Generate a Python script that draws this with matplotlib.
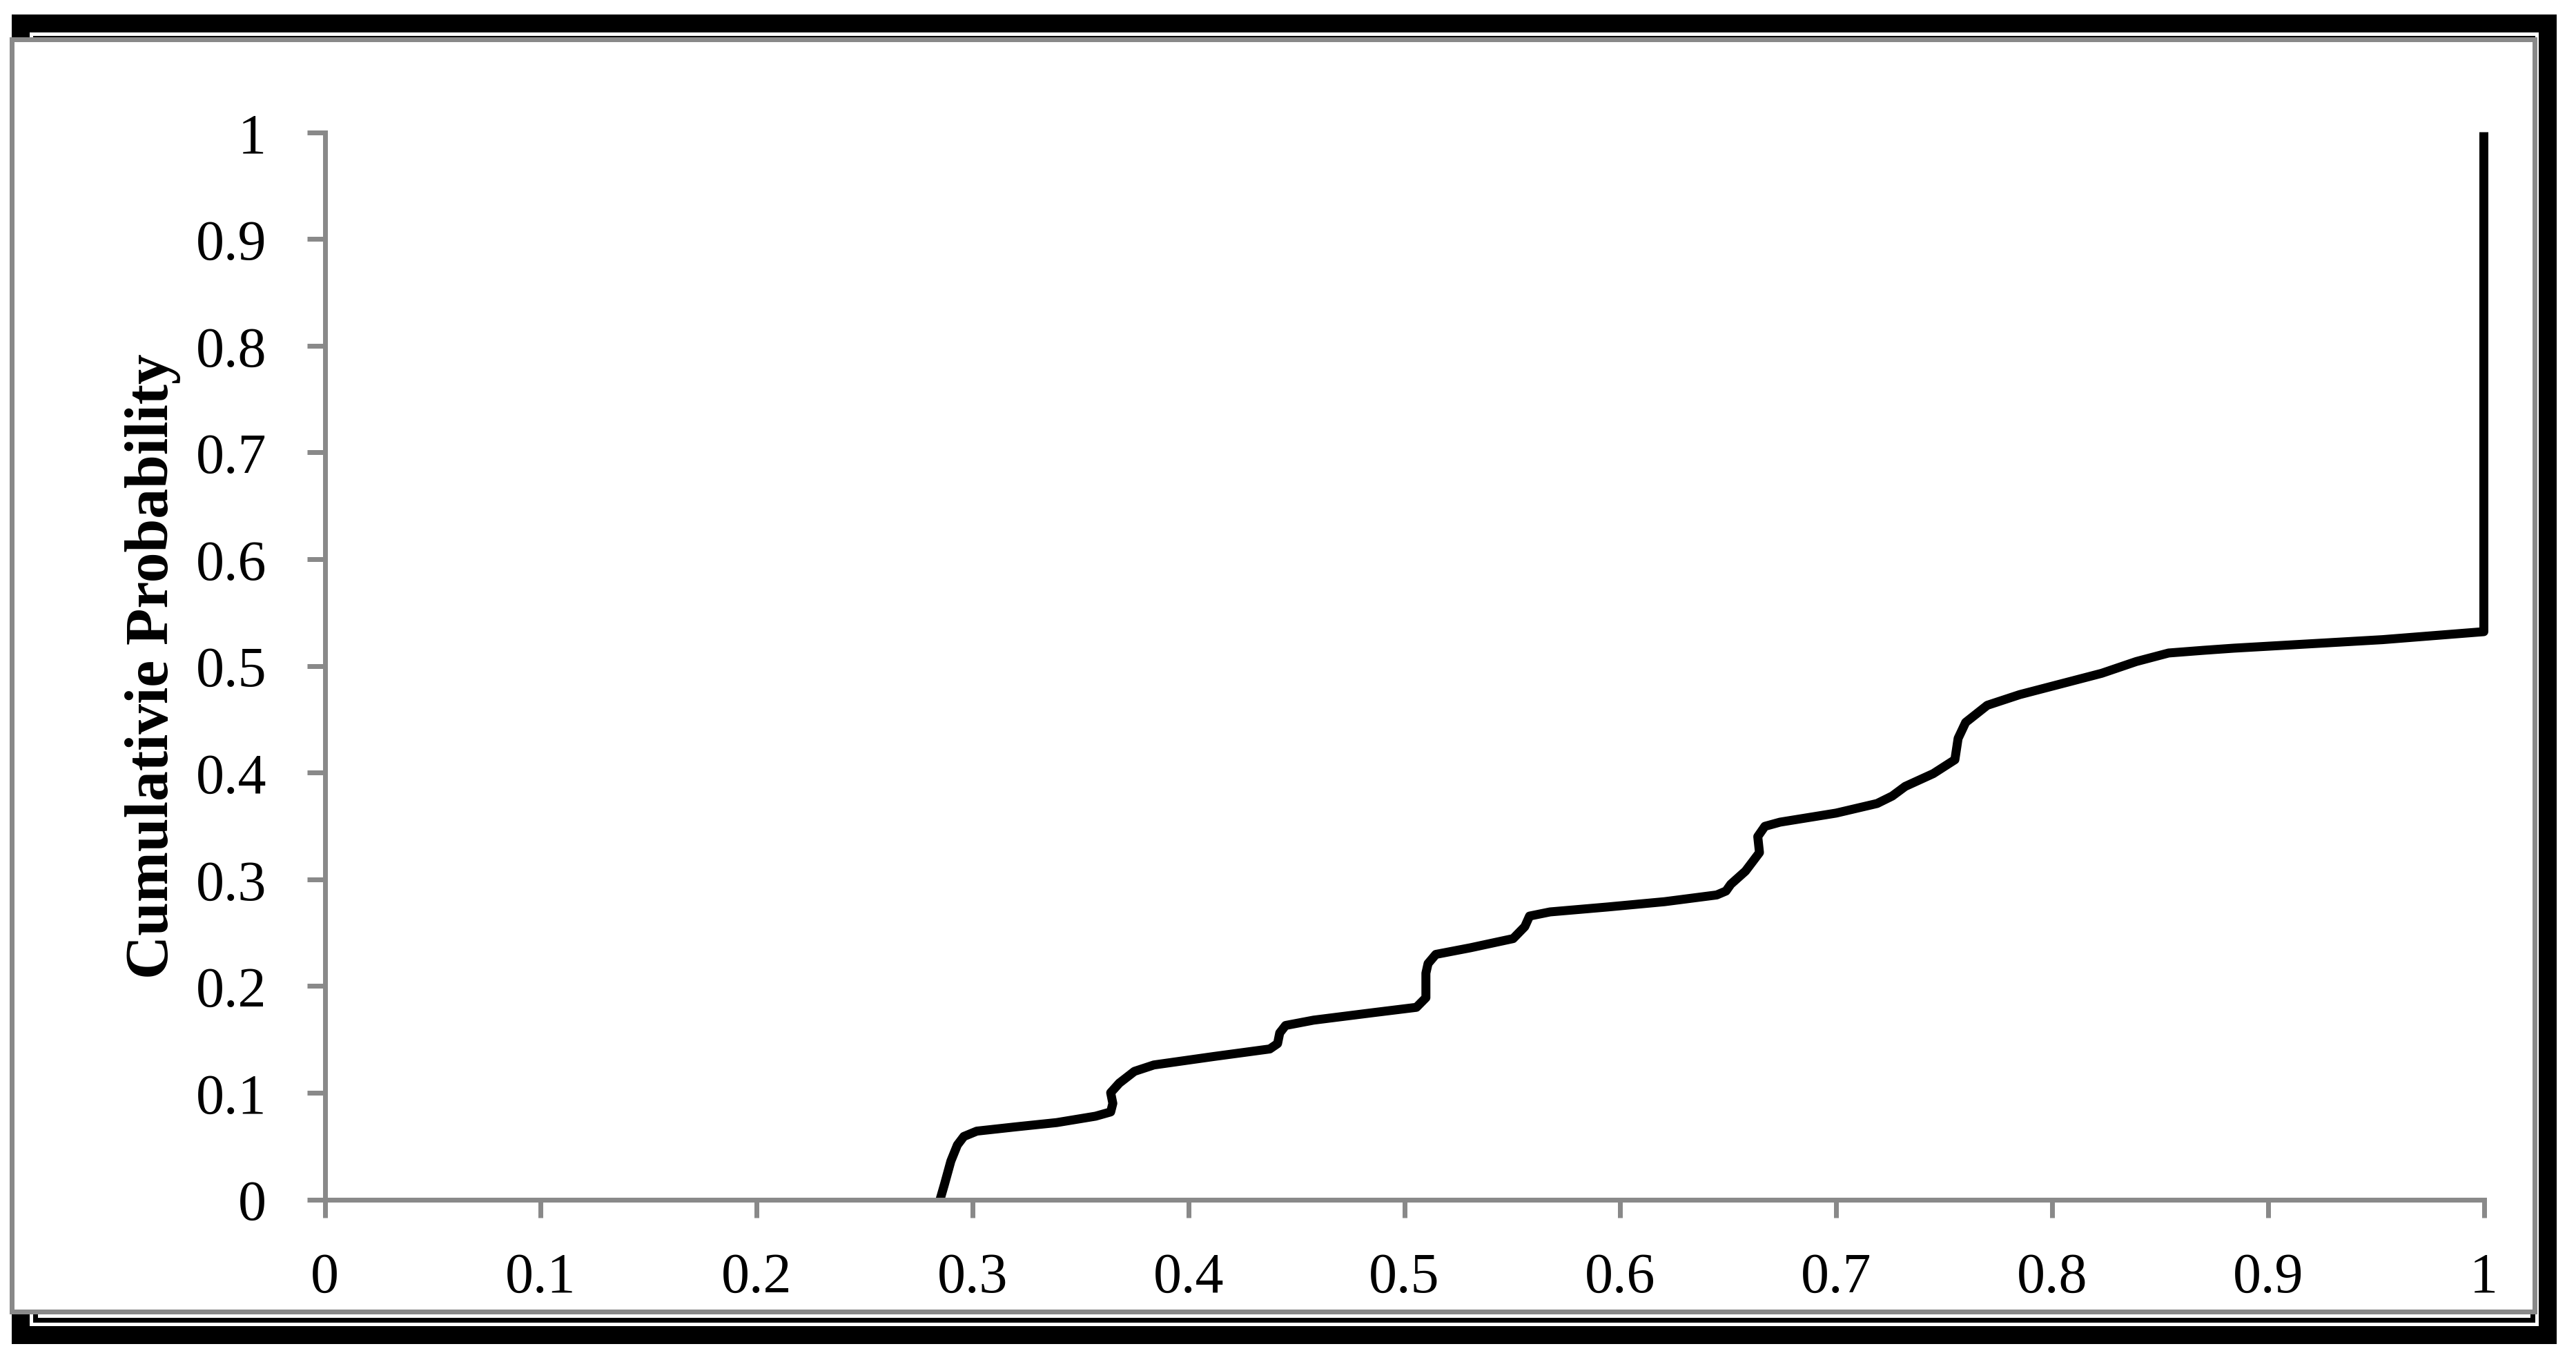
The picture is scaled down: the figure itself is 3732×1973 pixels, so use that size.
import matplotlib
matplotlib.use("Agg")
import matplotlib.pyplot as plt
from matplotlib.patches import Rectangle

# ---- data ----
cdf_x = [0.285, 0.287, 0.290, 0.293, 0.296, 0.302, 0.320, 0.339, 0.357, 0.364,
         0.365, 0.364, 0.368, 0.375, 0.384, 0.412, 0.4377, 0.4413, 0.4423, 0.445,
         0.458, 0.4855, 0.5056, 0.510, 0.510, 0.511, 0.5146, 0.5306, 0.5504, 0.5558,
         0.558, 0.5675, 0.594, 0.6206, 0.6447, 0.649, 0.6512, 0.658, 0.6645, 0.6637,
         0.667, 0.674, 0.700, 0.719, 0.726, 0.732, 0.745, 0.755, 0.7565, 0.760,
         0.770, 0.785, 0.823, 0.839, 0.854, 0.870, 0.884, 0.953, 1.0, 1.0]
cdf_y = [0.0, 0.014, 0.036, 0.051, 0.059, 0.064, 0.068, 0.072, 0.078, 0.082,
         0.090, 0.100, 0.109, 0.120, 0.126, 0.134, 0.141, 0.146, 0.156, 0.163,
         0.168, 0.175, 0.180, 0.189, 0.212, 0.221, 0.2296, 0.2358, 0.2444, 0.2556,
         0.2655, 0.2694, 0.274, 0.279, 0.2853, 0.289, 0.2953, 0.3076, 0.325, 0.34,
         0.3496, 0.3535, 0.362, 0.371, 0.378, 0.387, 0.399, 0.412, 0.432, 0.447,
         0.463, 0.473, 0.493, 0.504, 0.512, 0.5145, 0.5165, 0.5245, 0.532, 1.0]
x_ticks = [0, 0.1, 0.2, 0.3, 0.4, 0.5, 0.6, 0.7, 0.8, 0.9, 1]
y_ticks = [0, 0.1, 0.2, 0.3, 0.4, 0.5, 0.6, 0.7, 0.8, 0.9, 1]
tick_labels = ["0", "0.1", "0.2", "0.3", "0.4", "0.5", "0.6", "0.7", "0.8", "0.9", "1"]
y_label = "Cumulativie Probability"

W, H = 3732, 1974
GRAY = "#898989"
PT = 0.72  # points per pixel at dpi 100

fig = plt.figure(figsize=(W / 100, H / 100), dpi=100)
fig.patch.set_facecolor("white")


def rect(x0, y0, x1, y1, color, z):
    fig.add_artist(Rectangle((x0 / W, 1 - y1 / H), (x1 - x0) / W, (y1 - y0) / H,
                             transform=fig.transFigure, facecolor=color,
                             edgecolor="none", zorder=z))


# chart-area frame decoration (black shadow frame + gray border)
rect(17, 22, 3704, 1948, "black", -10)
rect(43, 48, 3678, 1922, "white", -9)
rect(48, 53, 3673, 56, "black", -8)
rect(3666, 53, 3673, 1917, "black", -8)
rect(48, 1910, 3673, 1917, "black", -8)
rect(48, 1905, 55, 1917, "black", -8)
rect(14, 55, 3676, 1905, GRAY, -7)
rect(21, 62, 3669, 1898, "white", -6)

ax = fig.add_axes([470.5 / W, 1 - 1738.5 / H, 3128 / W, 1546 / H])
ax.patch.set_alpha(0)
ax.plot(cdf_x, cdf_y, color="black", lw=13 * PT, solid_joinstyle="round",
        solid_capstyle="butt", clip_on=False)

ax.set_xlim(0, 1)
ax.set_ylim(0, 1)
for s in ("top", "right"):
    ax.spines[s].set_visible(False)
for s in ("left", "bottom"):
    ax.spines[s].set_color(GRAY)
    ax.spines[s].set_linewidth(7 * PT)

font = {"family": ["Liberation Serif", "DejaVu Serif"], "size": 59}
ax.set_xticks(x_ticks)
ax.set_xticklabels(tick_labels, fontdict=font)
ax.set_yticks(y_ticks)
ax.set_yticklabels(tick_labels, fontdict=font)
ax.tick_params(axis="both", direction="out", length=26 * PT, width=7 * PT,
               color=GRAY, labelcolor="black")
ax.tick_params(axis="x", pad=36)
ax.tick_params(axis="y", pad=42)

fig.text(221 / W, 1 - 965 / H, y_label, rotation=90, ha="center", va="center",
         fontsize=63, fontweight="bold", family=["Liberation Serif", "DejaVu Serif"])

fig.savefig("out.png", dpi=100, facecolor="white")
